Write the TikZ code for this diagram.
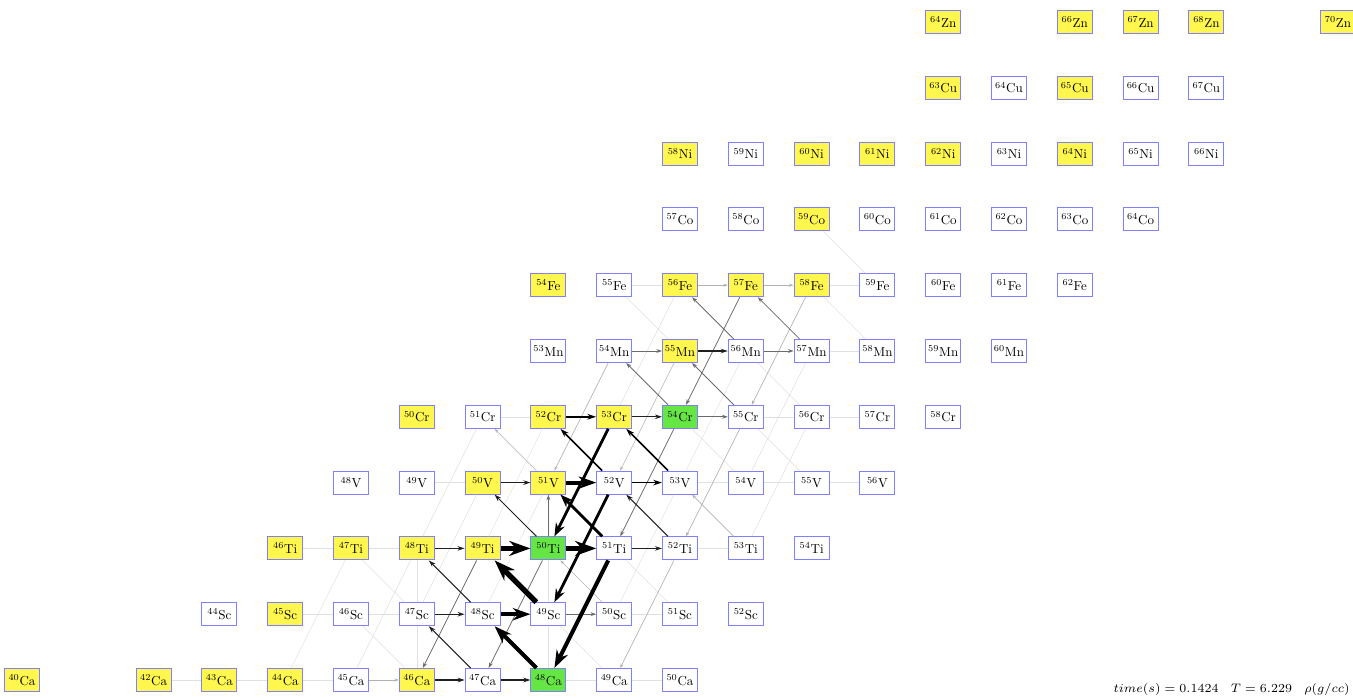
\documentclass[tikz,border=0pt]{standalone}
\usepackage{graphicx}
\usetikzlibrary{arrows.meta}
\definecolor{stabY}{RGB}{255,247,77}
\definecolor{stabG}{RGB}{102,230,68}
\definecolor{boxB}{RGB}{128,128,255}

% one nuclide box: #1 element, #2 Z, #3 A, #4 fill colour
\newcommand\isobox[4]{%
  \node[nuc,fill=#4] (#1#3) at ({22+(#3-#2-20)*65.8},{17+(#2-20)*65.8})
    {\scalebox{0.74}{$^{#3}$#1}};}

\begin{document}
\begin{tikzpicture}[x=0.02cm,y=0.02cm,
  nuc/.style={draw=boxB, line width=0.6pt, rectangle, minimum width=0.7cm,
    minimum height=0.46cm, inner sep=0pt, font=\fontsize{10}{12}\selectfont},
  fz/.style={draw=black!12, line width=0.3pt},
  fa/.style={draw=black!30, line width=0.35pt, -{Stealth[length=2.5pt,width=1.8pt]}},
  fb/.style={draw=black!58, line width=0.45pt, -{Stealth[length=3.2pt,width=2.2pt]}},
  fc/.style={draw=black!88, line width=0.6pt, -{Stealth[length=4pt,width=2.6pt]}},
  fd/.style={draw=black, line width=0.9pt, -{Stealth[length=5pt,width=3.2pt]}},
  fe/.style={draw=black, line width=1.6pt, -{Stealth[length=7.5pt,width=5.5pt]}},
  ff/.style={draw=black, line width=2.3pt, -{Stealth[length=10pt,width=7pt]}},
  fg/.style={draw=black, line width=3pt, -{Stealth[length=12pt,width=8.5pt]}},
]
\useasboundingbox (0,0) rectangle (1353,697);

% nuclide chart, one row per element
\foreach \a/\c in {40/stabY,42/stabY,43/stabY,44/stabY,45/white,46/stabY,47/white,48/stabG,49/white,50/white}
  {\isobox{Ca}{20}{\a}{\c}}
\foreach \a/\c in {44/white,45/stabY,46/white,47/white,48/white,49/white,50/white,51/white,52/white}
  {\isobox{Sc}{21}{\a}{\c}}
\foreach \a/\c in {46/stabY,47/stabY,48/stabY,49/stabY,50/stabG,51/white,52/white,53/white,54/white}
  {\isobox{Ti}{22}{\a}{\c}}
\foreach \a/\c in {48/white,49/white,50/stabY,51/stabY,52/white,53/white,54/white,55/white,56/white}
  {\isobox{V}{23}{\a}{\c}}
\foreach \a/\c in {50/stabY,51/white,52/stabY,53/stabY,54/stabG,55/white,56/white,57/white,58/white}
  {\isobox{Cr}{24}{\a}{\c}}
\foreach \a/\c in {53/white,54/white,55/stabY,56/white,57/white,58/white,59/white,60/white}
  {\isobox{Mn}{25}{\a}{\c}}
\foreach \a/\c in {54/stabY,55/white,56/stabY,57/stabY,58/stabY,59/white,60/white,61/white,62/white}
  {\isobox{Fe}{26}{\a}{\c}}
\foreach \a/\c in {57/white,58/white,59/stabY,60/white,61/white,62/white,63/white,64/white}
  {\isobox{Co}{27}{\a}{\c}}
\foreach \a/\c in {58/stabY,59/white,60/stabY,61/stabY,62/stabY,63/white,64/stabY,65/white,66/white}
  {\isobox{Ni}{28}{\a}{\c}}
\foreach \a/\c in {63/stabY,64/white,65/stabY,66/white,67/white}
  {\isobox{Cu}{29}{\a}{\c}}
\foreach \a/\c in {64/stabY,66/stabY,67/stabY,68/stabY,70/stabY}
  {\isobox{Zn}{30}{\a}{\c}}

% weak flows
\foreach \s/\t in {Ca42/Ca43,Ca43/Ca44,Ca44/Ca45,Ca48/Ca49,Ca49/Ca50,Sc45/Sc46,Sc46/Sc47,
    Sc50/Sc51,Ti46/Ti47,Ti47/Ti48,Ti52/Ti53,V49/V50,V53/V54,V54/V55,V55/V56,Cr51/Cr52,
    Cr55/Cr56,Cr56/Cr57,Mn57/Mn58,Fe55/Fe56,Fe58/Fe59,Ca46/Sc46,Ca49/Sc49,Sc47/Ti47,
    Sc51/Ti51,V54/Cr54,V55/Cr55,Cr56/Mn56,Mn55/Fe55,Mn58/Fe58,Fe59/Co59,Ti47/Ca44,
    Ti48/Ca45,V50/Sc47,V51/Sc48,V53/Sc50,Cr51/Ti48,Cr52/Ti49,Cr56/Ti53,Mn56/V53,
    Mn57/V54,Fe56/Cr53,Ca46/Sc47,Sc47/Ti48,Ca48/Sc49,Sc49/Ti50}
  {\draw[fz] (\s) -- (\t);}
\foreach \s/\t in {V51/Cr51,Sc50/Ti50,Ca45/Ca46,Fe56/Fe57,Fe57/Fe58,Cr55/Ti52,Mn54/V51,
    Ti52/Ca49,Ti53/V53,Fe58/Cr55,Mn55/V52}
  {\draw[fa] (\s) -- (\t);}
\foreach \s/\t in {Sc49/Sc50,Mn56/Mn57,Mn54/Mn55,Cr54/Cr55,Ti50/V51,Ti49/Ca46,Ti50/Ca47,
    Cr54/Mn54,Cr55/Mn55,Mn56/Fe56,Mn57/Fe57,Fe57/Cr54,Cr54/Ti51}
  {\draw[fb] (\s) -- (\t);}

% main flows
\foreach \s/\t in {Cr53/Cr54,V50/V51,Ti48/Ti49,Ti51/Ti52,Sc47/Sc48,Ca46/Ca47,Ca47/Ca48,
    Mn55/Mn56,Ti50/V50,Sc48/Ti48,Ca47/Sc47,Ti52/V52}
  {\draw[fc] (\s) -- (\t);}
\foreach \s/\t in {Cr52/Cr53,V52/V53,V53/Cr53,V52/Cr52}
  {\draw[fd] (\s) -- (\t);}
\foreach \s/\t in {Cr53/Ti50,Ti51/V51,V52/Sc49}
  {\draw[fe] (\s) -- (\t);}
\foreach \s/\t in {V51/V52,Sc48/Sc49,Ca48/Sc48,Ti51/Ca48}
  {\draw[ff] (\s) -- (\t);}
\foreach \s/\t in {Ti49/Ti50,Ti50/Ti51,Sc49/Ti49}
  {\draw[fg] (\s) -- (\t);}

% run conditions
\node[anchor=base east, inner sep=0pt, font=\fontsize{7}{9}\selectfont] (info) at (1350,5)
  {$time(s) = 0.1424\quad T = 6.229\quad \rho(g/cc)$};
\end{tikzpicture}
\end{document}
